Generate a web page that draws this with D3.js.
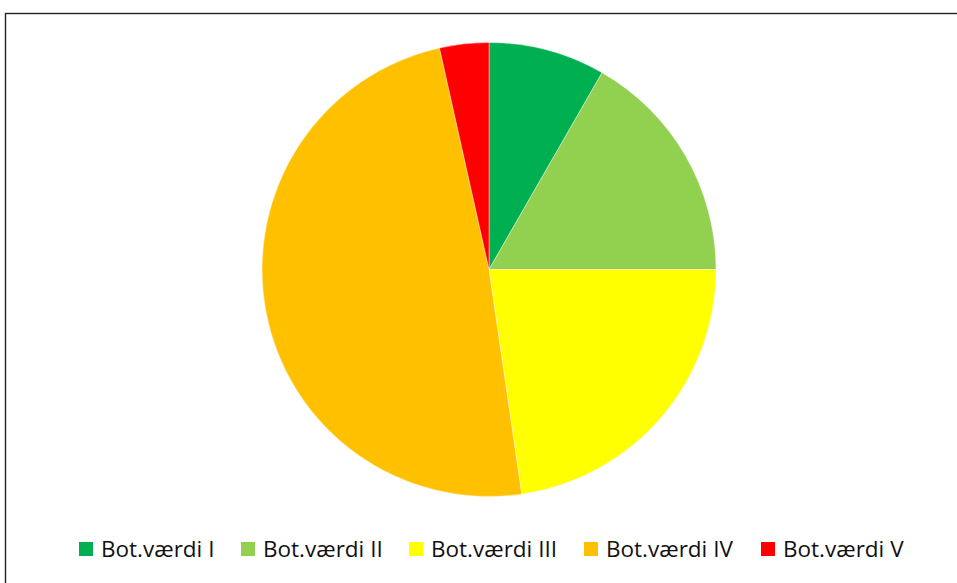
<!DOCTYPE html>
<html>
<head>
<meta charset="utf-8">
<script src="https://cdn.jsdelivr.net/npm/d3@7"></script>
<style>
  body { margin: 0; background: #fff; }
  svg { display: block; }
</style>
</head>
<body>
<svg id="chart" width="957" height="583"></svg>
<script>
const categories = ["Bot.værdi I", "Bot.værdi II", "Bot.værdi III", "Bot.værdi IV", "Bot.værdi V"];
const values = [8.3, 16.7, 22.7, 48.8, 3.5];
const colors = ["#00B050", "#92D050", "#FFFF00", "#FFC000", "#FF0000"];

let svg = d3.select("#chart");

// chart frame (runs off right / bottom edge)
svg.append("rect")
    .attr("x", 5.5).attr("y", 13.5)
    .attr("width", 960).attr("height", 580)
    .attr("fill", "none")
    .attr("stroke", "#222")
    .attr("stroke-width", 1.4);

const cx = 489, cy = 269.5, r = 227;

let pie = d3.pie().sort(null).value(d => d);
let arc = d3.arc().innerRadius(0).outerRadius(r);

let g = svg.append("g").attr("transform", `translate(${cx},${cy})`);
g.selectAll("path")
    .data(pie(values))
    .join("path")
    .attr("d", arc)
    .attr("fill", (d, i) => colors[i])
    .attr("stroke", "#fff")
    .attr("stroke-width", 0.4);

// legend
const legendX = [79, 241, 409, 584, 761];
let legend = svg.append("g");
categories.forEach((c, i) => {
    legend.append("rect")
        .attr("x", legendX[i]).attr("y", 542)
        .attr("width", 14).attr("height", 14)
        .attr("fill", colors[i]);
    legend.append("text")
        .attr("x", legendX[i] + 22).attr("y", 556.5)
        .attr("font-family", "Open Sans, sans-serif")
        .attr("font-size", 22.5)
        .attr("fill", "#111")
        .text(c);
});
</script>
</body>
</html>
